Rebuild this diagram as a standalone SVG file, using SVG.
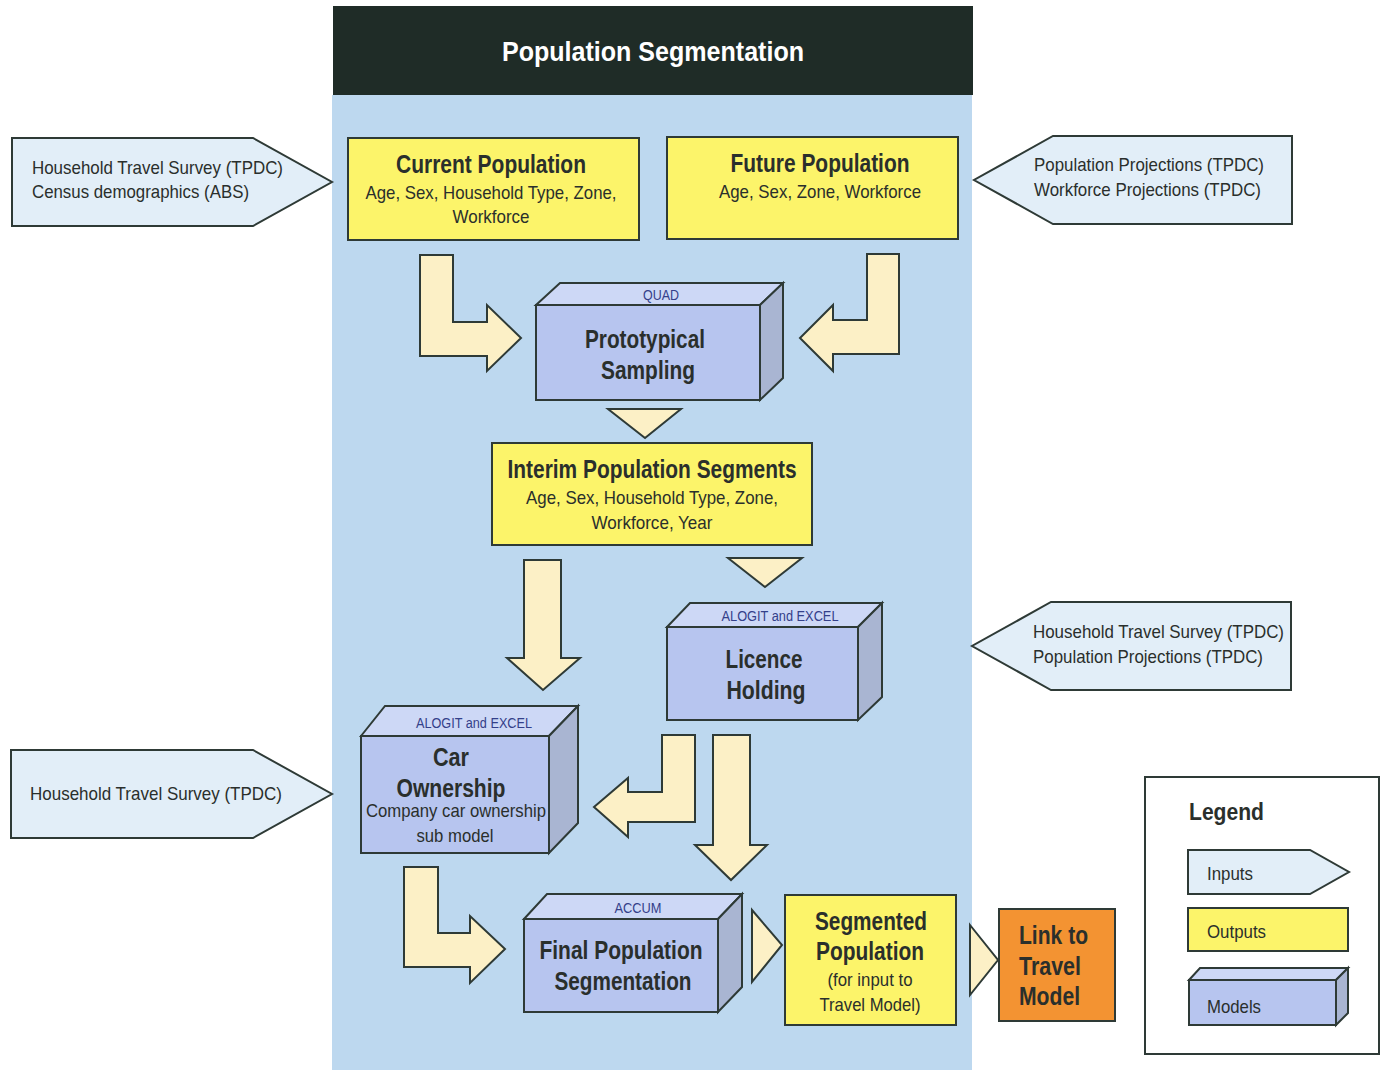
<svg xmlns="http://www.w3.org/2000/svg" width="1381" height="1070" viewBox="0 0 1381 1070">
<defs>
<style>
text{font-family:"Liberation Sans",Arial,sans-serif;fill:#2a2f2c}
.inp{fill:#e2eef8;stroke:#2e3a36;stroke-width:2}
.out{fill:#fcf46a;stroke:#2e3a36;stroke-width:2}
.front{fill:#b7c5ef;stroke:#2e3a36;stroke-width:2}
.top{fill:#cdd8f6;stroke:#2e3a36;stroke-width:2}
.side{fill:#a9b5d2;stroke:#2e3a36;stroke-width:2}
.arr{fill:#fcf0c6;stroke:#2e3a36;stroke-width:2;stroke-linejoin:miter}
.it{font-size:19px}
.ot{font-size:25px;font-weight:bold;text-anchor:middle}
.os{font-size:19px;text-anchor:middle}
.mt{font-size:25px;font-weight:bold;text-anchor:middle}
.ml{font-size:14px;text-anchor:middle;fill:#34408a}
.lg{font-size:19px}
</style>
</defs>
<rect width="1381" height="1070" fill="#ffffff"/>
<rect x="332" y="95" width="640" height="975" fill="#bdd8ef"/>
<g id="title">
<rect x="333" y="6" width="640" height="89" fill="#1f2c27"/>
<text x="653" y="61" textLength="302" lengthAdjust="spacingAndGlyphs" style="font-size:28px;font-weight:bold;fill:#ffffff;text-anchor:middle">Population Segmentation</text>
</g>

<g id="connectors">
<polygon class="arr" points="420,255 453,255 453,322 487,322 487,305 521,338 487,371 487,356 420,356"/>
<polygon class="arr" points="899,254 867,254 867,320 833,320 833,305 800,338 833,371 833,354 899,354"/>
<polygon class="arr" points="608,409 681,409 645,438"/>
<polygon class="arr" points="524,560 561,560 561,658 580,658 543,690 507,658 524,658"/>
<polygon class="arr" points="728,558 802,558 765,587"/>
<polygon class="arr" points="695,735 662,735 662,792 628,792 628,778 594,807 628,837 628,822 695,822"/>
<polygon class="arr" points="713,735 750,735 750,845 767,845 731,880 695,845 713,845"/>
<polygon class="arr" points="404,867 438,867 438,933 470,933 470,916 505,949 470,983 470,967 404,967"/>
<polygon class="arr" points="752,910 782,945 752,982"/>
<polygon class="arr" points="970,925 998,960 970,995"/>
</g>

<g id="input-hts-census">
<polygon class="inp" points="12,138 253,138 332,182 253,226 12,226"/>
<text class="it" x="32" y="174" textLength="251" lengthAdjust="spacingAndGlyphs">Household Travel Survey (TPDC)</text>
<text class="it" x="32" y="198" textLength="217" lengthAdjust="spacingAndGlyphs">Census demographics (ABS)</text>
</g>
<g id="current-population">
<rect class="out" x="348" y="138" width="291" height="102"/>
<text class="ot" x="491" y="173" textLength="190" lengthAdjust="spacingAndGlyphs">Current Population</text>
<text class="os" x="491" y="199" textLength="251" lengthAdjust="spacingAndGlyphs">Age, Sex, Household Type, Zone,</text>
<text class="os" x="491" y="223" textLength="77" lengthAdjust="spacingAndGlyphs">Workforce</text>
</g>
<g id="future-population">
<rect class="out" x="667" y="137" width="291" height="102"/>
<text class="ot" x="820" y="172" textLength="179" lengthAdjust="spacingAndGlyphs">Future Population</text>
<text class="os" x="820" y="198" textLength="202" lengthAdjust="spacingAndGlyphs">Age, Sex, Zone, Workforce</text>
</g>
<g id="input-projections">
<polygon class="inp" points="1292,136 1053,136 974,180 1053,224 1292,224"/>
<text class="it" x="1034" y="171" textLength="230" lengthAdjust="spacingAndGlyphs">Population Projections (TPDC)</text>
<text class="it" x="1034" y="196" textLength="227" lengthAdjust="spacingAndGlyphs">Workforce Projections (TPDC)</text>
</g>
<g id="prototypical-sampling">
<polygon class="top" points="536,305 560,283 783,283 760,305"/>
<polygon class="side" points="760,305 783,283 783,378 760,400"/>
<rect class="front" x="536" y="305" width="224" height="95"/>
<text class="ml" x="661" y="300" textLength="36" lengthAdjust="spacingAndGlyphs">QUAD</text>
<text class="mt" x="645" y="348" textLength="120" lengthAdjust="spacingAndGlyphs">Prototypical</text>
<text class="mt" x="648" y="379" textLength="94" lengthAdjust="spacingAndGlyphs">Sampling</text>
</g>
<g id="interim-population-segments">
<rect class="out" x="492" y="443" width="320" height="102"/>
<text class="ot" x="652" y="478" textLength="289" lengthAdjust="spacingAndGlyphs">Interim Population Segments</text>
<text class="os" x="652" y="504" textLength="252" lengthAdjust="spacingAndGlyphs">Age, Sex, Household Type, Zone,</text>
<text class="os" x="652" y="529" textLength="121" lengthAdjust="spacingAndGlyphs">Workforce, Year</text>
</g>
<g id="licence-holding">
<polygon class="top" points="667,627 690,603 882,603 858,627"/>
<polygon class="side" points="858,627 882,603 882,697 858,720"/>
<rect class="front" x="667" y="627" width="191" height="93"/>
<text class="ml" x="780" y="621" textLength="117" lengthAdjust="spacingAndGlyphs">ALOGIT and EXCEL</text>
<text class="mt" x="764" y="668" textLength="77" lengthAdjust="spacingAndGlyphs">Licence</text>
<text class="mt" x="766" y="699" textLength="79" lengthAdjust="spacingAndGlyphs">Holding</text>
</g>
<g id="input-hts-projections">
<polygon class="inp" points="1291,602 1051,602 972,646 1051,690 1291,690"/>
<text class="it" x="1033" y="638" textLength="251" lengthAdjust="spacingAndGlyphs">Household Travel Survey (TPDC)</text>
<text class="it" x="1033" y="663" textLength="230" lengthAdjust="spacingAndGlyphs">Population Projections (TPDC)</text>
</g>
<g id="input-hts">
<polygon class="inp" points="11,750 253,750 332,794 253,838 11,838"/>
<text class="it" x="30" y="800" textLength="252" lengthAdjust="spacingAndGlyphs">Household Travel Survey (TPDC)</text>
</g>
<g id="car-ownership">
<polygon class="top" points="361,736 385,706 578,706 549,736"/>
<polygon class="side" points="549,736 578,706 578,823 549,853"/>
<rect class="front" x="361" y="736" width="188" height="117"/>
<text class="ml" x="474" y="728" textLength="116" lengthAdjust="spacingAndGlyphs">ALOGIT and EXCEL</text>
<text class="mt" x="451" y="766" textLength="36" lengthAdjust="spacingAndGlyphs">Car</text>
<text class="mt" x="451" y="797" textLength="109" lengthAdjust="spacingAndGlyphs">Ownership</text>
<text class="os" x="456" y="817" textLength="180" lengthAdjust="spacingAndGlyphs">Company car ownership</text>
<text class="os" x="455" y="842" textLength="77" lengthAdjust="spacingAndGlyphs">sub model</text>
</g>
<g id="final-population-segmentation">
<polygon class="top" points="524,919 547,894 742,894 718,919"/>
<polygon class="side" points="718,919 742,894 742,987 718,1012"/>
<rect class="front" x="524" y="919" width="194" height="93"/>
<text class="ml" x="638" y="913" textLength="47" lengthAdjust="spacingAndGlyphs">ACCUM</text>
<text class="mt" x="621" y="959" textLength="163" lengthAdjust="spacingAndGlyphs">Final Population</text>
<text class="mt" x="623" y="990" textLength="137" lengthAdjust="spacingAndGlyphs">Segmentation</text>
</g>
<g id="segmented-population">
<rect class="out" x="785" y="895" width="171" height="130"/>
<text class="ot" x="871" y="930" textLength="112" lengthAdjust="spacingAndGlyphs">Segmented</text>
<text class="ot" x="870" y="960" textLength="108" lengthAdjust="spacingAndGlyphs">Population</text>
<text class="os" x="870" y="986" textLength="85" lengthAdjust="spacingAndGlyphs">(for input to</text>
<text class="os" x="870" y="1011" textLength="101" lengthAdjust="spacingAndGlyphs">Travel Model)</text>
</g>
<g id="link-to-travel-model">
<rect x="999" y="909" width="116" height="112" fill="#f39332" stroke="#2e3a36" stroke-width="2"/>
<text x="1019" y="944" textLength="69" lengthAdjust="spacingAndGlyphs" style="font-size:25px;font-weight:bold">Link to</text>
<text x="1019" y="975" textLength="62" lengthAdjust="spacingAndGlyphs" style="font-size:25px;font-weight:bold">Travel</text>
<text x="1019" y="1005" textLength="61" lengthAdjust="spacingAndGlyphs" style="font-size:25px;font-weight:bold">Model</text>
</g>
<g id="legend">
<rect x="1145" y="777" width="234" height="277" fill="#ffffff" stroke="#2e3a36" stroke-width="2"/>
<text x="1189" y="820" textLength="75" lengthAdjust="spacingAndGlyphs" style="font-size:24px;font-weight:bold">Legend</text>
<polygon class="inp" points="1188,850 1310,850 1349,872 1310,894 1188,894"/>
<text class="lg" x="1207" y="880" textLength="46" lengthAdjust="spacingAndGlyphs">Inputs</text>
<rect class="out" x="1188" y="908" width="160" height="43"/>
<text class="lg" x="1207" y="938" textLength="59" lengthAdjust="spacingAndGlyphs">Outputs</text>
<polygon class="top" points="1189,980 1200,968 1348,968 1336,980"/>
<polygon class="side" points="1336,980 1348,968 1348,1013 1336,1025"/>
<rect class="front" x="1189" y="980" width="147" height="45"/>
<text class="lg" x="1207" y="1013" textLength="54" lengthAdjust="spacingAndGlyphs">Models</text>
</g>
</svg>
